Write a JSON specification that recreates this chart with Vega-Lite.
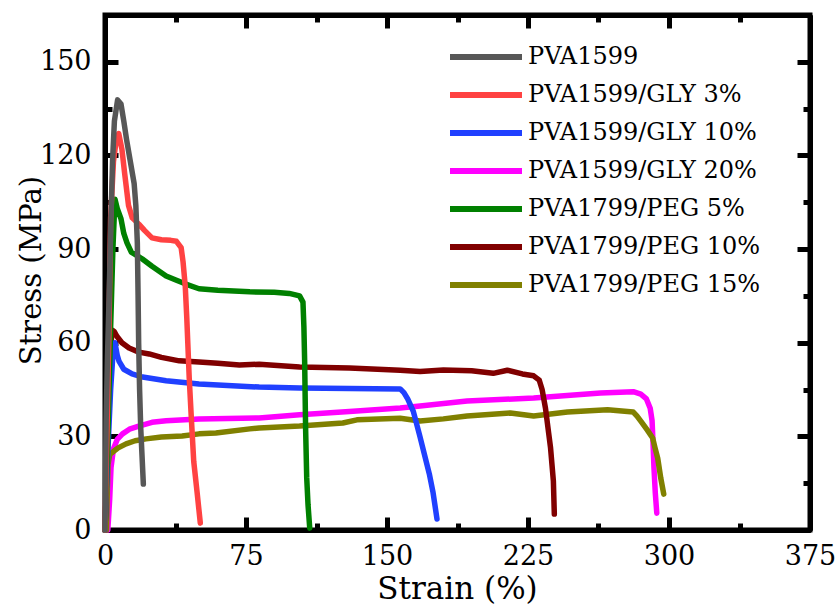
{
  "$schema": "https://vega.github.io/schema/vega-lite/v6.json",
  "width": 705,
  "height": 515,
  "autosize": {"type": "none"},
  "padding": {"left": 105, "top": 15, "right": 28, "bottom": 85},
  "background": "white",
  "config": {
    "font": "DejaVu Serif",
    "view": {"stroke": "black", "strokeWidth": 5},
    "axis": {
      "grid": false,
      "domainColor": "black",
      "domainWidth": 5,
      "tickColor": "black",
      "tickWidth": 5,
      "labelFont": "DejaVu Serif",
      "labelFontSize": 27,
      "labelColor": "black",
      "labelFlush": false,
      "labelOverlap": false,
      "titleFont": "DejaVu Serif",
      "titleFontSize": 31,
      "titleFontWeight": "normal",
      "titleColor": "black"
    },
    "legend": {
      "labelFont": "DejaVu Serif",
      "labelFontSize": 24,
      "labelColor": "black",
      "labelLimit": 0
    }
  },
  "data": {"values": [
    {"s":"PVA1599/GLY 20%","x":1.5,"y":0},{"s":"PVA1599/GLY 20%","x":2.5,"y":10},{"s":"PVA1599/GLY 20%","x":3.2,"y":20},{"s":"PVA1599/GLY 20%","x":4.5,"y":26},{"s":"PVA1599/GLY 20%","x":6.5,"y":29},{"s":"PVA1599/GLY 20%","x":9.3,"y":30.8},{"s":"PVA1599/GLY 20%","x":13,"y":32.3},{"s":"PVA1599/GLY 20%","x":18,"y":33.3},{"s":"PVA1599/GLY 20%","x":25,"y":34.5},{"s":"PVA1599/GLY 20%","x":32.5,"y":35},{"s":"PVA1599/GLY 20%","x":50,"y":35.6},{"s":"PVA1599/GLY 20%","x":82,"y":35.9},{"s":"PVA1599/GLY 20%","x":103.5,"y":36.9},{"s":"PVA1599/GLY 20%","x":130,"y":38},{"s":"PVA1599/GLY 20%","x":157,"y":39.1},{"s":"PVA1599/GLY 20%","x":167.6,"y":39.7},{"s":"PVA1599/GLY 20%","x":192.6,"y":41.3},{"s":"PVA1599/GLY 20%","x":228,"y":42.3},{"s":"PVA1599/GLY 20%","x":263.6,"y":43.9},{"s":"PVA1599/GLY 20%","x":281,"y":44.3},{"s":"PVA1599/GLY 20%","x":285,"y":43.5},{"s":"PVA1599/GLY 20%","x":288,"y":42},{"s":"PVA1599/GLY 20%","x":290,"y":39},{"s":"PVA1599/GLY 20%","x":291,"y":35},{"s":"PVA1599/GLY 20%","x":291.5,"y":28},{"s":"PVA1599/GLY 20%","x":292,"y":20},{"s":"PVA1599/GLY 20%","x":292.7,"y":12},{"s":"PVA1599/GLY 20%","x":293.5,"y":5.4},
    {"s":"PVA1799/PEG 15%","x":0.8,"y":0},{"s":"PVA1799/PEG 15%","x":1.2,"y":12},{"s":"PVA1799/PEG 15%","x":1.6,"y":21},{"s":"PVA1799/PEG 15%","x":2.5,"y":24.2},{"s":"PVA1799/PEG 15%","x":4.8,"y":25.3},{"s":"PVA1799/PEG 15%","x":7,"y":26.3},{"s":"PVA1799/PEG 15%","x":11.2,"y":27.6},{"s":"PVA1799/PEG 15%","x":16,"y":28.6},{"s":"PVA1799/PEG 15%","x":21.8,"y":29.2},{"s":"PVA1799/PEG 15%","x":30,"y":29.8},{"s":"PVA1799/PEG 15%","x":41,"y":30.1},{"s":"PVA1799/PEG 15%","x":50,"y":30.8},{"s":"PVA1799/PEG 15%","x":59,"y":31.1},{"s":"PVA1799/PEG 15%","x":77,"y":32.4},{"s":"PVA1799/PEG 15%","x":82,"y":32.7},{"s":"PVA1799/PEG 15%","x":103.5,"y":33.3},{"s":"PVA1799/PEG 15%","x":126.5,"y":34.3},{"s":"PVA1799/PEG 15%","x":134,"y":35.3},{"s":"PVA1799/PEG 15%","x":157,"y":35.8},{"s":"PVA1799/PEG 15%","x":167.6,"y":34.9},{"s":"PVA1799/PEG 15%","x":180,"y":35.6},{"s":"PVA1799/PEG 15%","x":192.6,"y":36.5},{"s":"PVA1799/PEG 15%","x":215.6,"y":37.5},{"s":"PVA1799/PEG 15%","x":228,"y":36.5},{"s":"PVA1799/PEG 15%","x":246,"y":37.8},{"s":"PVA1799/PEG 15%","x":267.3,"y":38.5},{"s":"PVA1799/PEG 15%","x":281,"y":37.8},{"s":"PVA1799/PEG 15%","x":283,"y":36.5},{"s":"PVA1799/PEG 15%","x":285,"y":34.9},{"s":"PVA1799/PEG 15%","x":288.5,"y":32},{"s":"PVA1799/PEG 15%","x":291.3,"y":29.5},{"s":"PVA1799/PEG 15%","x":292.5,"y":26.5},{"s":"PVA1799/PEG 15%","x":294,"y":23},{"s":"PVA1799/PEG 15%","x":295.6,"y":16.7},{"s":"PVA1799/PEG 15%","x":297.2,"y":11.5},
    {"s":"PVA1799/PEG 10%","x":0,"y":0},{"s":"PVA1799/PEG 10%","x":1,"y":20},{"s":"PVA1799/PEG 10%","x":2.2,"y":45},{"s":"PVA1799/PEG 10%","x":3.2,"y":60},{"s":"PVA1799/PEG 10%","x":3.9,"y":64},{"s":"PVA1799/PEG 10%","x":5,"y":63.5},{"s":"PVA1799/PEG 10%","x":6.4,"y":62},{"s":"PVA1799/PEG 10%","x":9,"y":60},{"s":"PVA1799/PEG 10%","x":12.8,"y":58.3},{"s":"PVA1799/PEG 10%","x":18,"y":57},{"s":"PVA1799/PEG 10%","x":23.5,"y":56.4},{"s":"PVA1799/PEG 10%","x":30,"y":55.3},{"s":"PVA1799/PEG 10%","x":39.5,"y":54.2},{"s":"PVA1799/PEG 10%","x":50,"y":53.8},{"s":"PVA1799/PEG 10%","x":60,"y":53.4},{"s":"PVA1799/PEG 10%","x":71.5,"y":52.9},{"s":"PVA1799/PEG 10%","x":82,"y":53.1},{"s":"PVA1799/PEG 10%","x":103.5,"y":52.2},{"s":"PVA1799/PEG 10%","x":130,"y":51.9},{"s":"PVA1799/PEG 10%","x":157,"y":51.2},{"s":"PVA1799/PEG 10%","x":167.6,"y":50.8},{"s":"PVA1799/PEG 10%","x":180,"y":51.3},{"s":"PVA1799/PEG 10%","x":195,"y":51},{"s":"PVA1799/PEG 10%","x":206.5,"y":50.2},{"s":"PVA1799/PEG 10%","x":214,"y":51.2},{"s":"PVA1799/PEG 10%","x":222,"y":50},{"s":"PVA1799/PEG 10%","x":228,"y":49.4},{"s":"PVA1799/PEG 10%","x":231,"y":48},{"s":"PVA1799/PEG 10%","x":232.5,"y":45},{"s":"PVA1799/PEG 10%","x":234.3,"y":39},{"s":"PVA1799/PEG 10%","x":236,"y":31},{"s":"PVA1799/PEG 10%","x":237,"y":26.3},{"s":"PVA1799/PEG 10%","x":238.5,"y":15.7},{"s":"PVA1799/PEG 10%","x":239,"y":5.1},
    {"s":"PVA1599/GLY 10%","x":0,"y":0},{"s":"PVA1599/GLY 10%","x":1.5,"y":25},{"s":"PVA1599/GLY 10%","x":3,"y":45},{"s":"PVA1599/GLY 10%","x":4.3,"y":57},{"s":"PVA1599/GLY 10%","x":5.3,"y":60},{"s":"PVA1599/GLY 10%","x":6.5,"y":56},{"s":"PVA1599/GLY 10%","x":7.5,"y":54},{"s":"PVA1599/GLY 10%","x":10,"y":51.5},{"s":"PVA1599/GLY 10%","x":14.4,"y":50},{"s":"PVA1599/GLY 10%","x":20,"y":49},{"s":"PVA1599/GLY 10%","x":32.5,"y":47.8},{"s":"PVA1599/GLY 10%","x":50,"y":46.8},{"s":"PVA1599/GLY 10%","x":82,"y":45.8},{"s":"PVA1599/GLY 10%","x":103.5,"y":45.5},{"s":"PVA1599/GLY 10%","x":130,"y":45.3},{"s":"PVA1599/GLY 10%","x":157,"y":45.2},{"s":"PVA1599/GLY 10%","x":159,"y":44},{"s":"PVA1599/GLY 10%","x":161,"y":42},{"s":"PVA1599/GLY 10%","x":164,"y":38},{"s":"PVA1599/GLY 10%","x":167.5,"y":30},{"s":"PVA1599/GLY 10%","x":170,"y":24},{"s":"PVA1599/GLY 10%","x":172.5,"y":18},{"s":"PVA1599/GLY 10%","x":174.5,"y":12},{"s":"PVA1599/GLY 10%","x":176.6,"y":3.5},
    {"s":"PVA1799/PEG 5%","x":0,"y":0},{"s":"PVA1799/PEG 5%","x":1.5,"y":30},{"s":"PVA1799/PEG 5%","x":3,"y":65},{"s":"PVA1799/PEG 5%","x":4.2,"y":90},{"s":"PVA1799/PEG 5%","x":5.3,"y":106},{"s":"PVA1799/PEG 5%","x":6.5,"y":103},{"s":"PVA1799/PEG 5%","x":8.5,"y":99.7},{"s":"PVA1799/PEG 5%","x":10,"y":95},{"s":"PVA1799/PEG 5%","x":11.7,"y":92},{"s":"PVA1799/PEG 5%","x":14,"y":89},{"s":"PVA1799/PEG 5%","x":19.7,"y":86.9},{"s":"PVA1799/PEG 5%","x":25,"y":84.5},{"s":"PVA1799/PEG 5%","x":32.5,"y":81.4},{"s":"PVA1799/PEG 5%","x":38,"y":80},{"s":"PVA1799/PEG 5%","x":43,"y":78.8},{"s":"PVA1799/PEG 5%","x":50,"y":77.3},{"s":"PVA1799/PEG 5%","x":60,"y":76.8},{"s":"PVA1799/PEG 5%","x":77,"y":76.3},{"s":"PVA1799/PEG 5%","x":90,"y":76.2},{"s":"PVA1799/PEG 5%","x":98,"y":75.8},{"s":"PVA1799/PEG 5%","x":103.5,"y":75},{"s":"PVA1799/PEG 5%","x":105.3,"y":73},{"s":"PVA1799/PEG 5%","x":105.8,"y":65},{"s":"PVA1799/PEG 5%","x":106.2,"y":54},{"s":"PVA1799/PEG 5%","x":106.7,"y":32.7},{"s":"PVA1799/PEG 5%","x":107.3,"y":16.7},{"s":"PVA1799/PEG 5%","x":108,"y":8},{"s":"PVA1799/PEG 5%","x":108.9,"y":0.6},
    {"s":"PVA1599/GLY 3%","x":0,"y":0},{"s":"PVA1599/GLY 3%","x":1,"y":30},{"s":"PVA1599/GLY 3%","x":2,"y":60},{"s":"PVA1599/GLY 3%","x":3,"y":100},{"s":"PVA1599/GLY 3%","x":4.5,"y":118},{"s":"PVA1599/GLY 3%","x":6,"y":125},{"s":"PVA1599/GLY 3%","x":7.3,"y":127},{"s":"PVA1599/GLY 3%","x":9,"y":122},{"s":"PVA1599/GLY 3%","x":10.5,"y":114},{"s":"PVA1599/GLY 3%","x":12.5,"y":104},{"s":"PVA1599/GLY 3%","x":14.5,"y":100},{"s":"PVA1599/GLY 3%","x":18,"y":98},{"s":"PVA1599/GLY 3%","x":21,"y":96},{"s":"PVA1599/GLY 3%","x":25,"y":93.6},{"s":"PVA1599/GLY 3%","x":30,"y":93},{"s":"PVA1599/GLY 3%","x":35,"y":92.8},{"s":"PVA1599/GLY 3%","x":38,"y":92.5},{"s":"PVA1599/GLY 3%","x":40.5,"y":90.5},{"s":"PVA1599/GLY 3%","x":41.5,"y":86},{"s":"PVA1599/GLY 3%","x":42.7,"y":78},{"s":"PVA1599/GLY 3%","x":43.5,"y":68},{"s":"PVA1599/GLY 3%","x":44.8,"y":48.7},{"s":"PVA1599/GLY 3%","x":46,"y":35},{"s":"PVA1599/GLY 3%","x":47.2,"y":22},{"s":"PVA1599/GLY 3%","x":49,"y":12},{"s":"PVA1599/GLY 3%","x":50.7,"y":2.2},
    {"s":"PVA1599","x":0,"y":0},{"s":"PVA1599","x":0.6,"y":35},{"s":"PVA1599","x":1.3,"y":55},{"s":"PVA1599","x":2.2,"y":75},{"s":"PVA1599","x":3.2,"y":100},{"s":"PVA1599","x":4,"y":118},{"s":"PVA1599","x":5,"y":131},{"s":"PVA1599","x":6.7,"y":137.8},{"s":"PVA1599","x":8.5,"y":136.5},{"s":"PVA1599","x":10,"y":131},{"s":"PVA1599","x":11.5,"y":125},{"s":"PVA1599","x":13.5,"y":118},{"s":"PVA1599","x":15.5,"y":111},{"s":"PVA1599","x":16.4,"y":104},{"s":"PVA1599","x":17.2,"y":92},{"s":"PVA1599","x":17.6,"y":75},{"s":"PVA1599","x":17.9,"y":60},{"s":"PVA1599","x":18.4,"y":45},{"s":"PVA1599","x":19,"y":32.7},{"s":"PVA1599","x":20.4,"y":14.7}
  ]},
  "layer": [
    {
      "mark": {"type": "line", "strokeWidth": 5.5, "strokeCap": "round", "strokeJoin": "round"},
      "encoding": {
        "x": {
          "field": "x", "type": "quantitative",
          "scale": {"domain": [0, 375], "nice": false, "zero": false},
          "axis": {
            "orient": "bottom",
            "values": [0, 75, 150, 225, 300, 375],
            "ticks": false,
            "labelPadding": 13,
            "title": "Strain (%)",
            "titleX": 352,
            "titleY": 68,
            "titleBaseline": "alphabetic",
            "titleAnchor": "middle"
          }
        },
        "y": {
          "field": "y", "type": "quantitative",
          "scale": {"domain": [0, 165], "nice": false, "zero": false},
          "axis": {
            "orient": "left",
            "values": [0, 30, 60, 90, 120, 150],
            "ticks": false,
            "labelPadding": 14,
            "title": "Stress (MPa)",
            "titleFontSize": 29,
            "titleAngle": 270,
            "titleX": -65,
            "titleY": 255,
            "titleBaseline": "alphabetic",
            "titleAlign": "center"
          }
        },
        "color": {
          "field": "s", "type": "nominal",
          "scale": {
            "domain": ["PVA1599", "PVA1599/GLY 3%", "PVA1599/GLY 10%", "PVA1599/GLY 20%", "PVA1799/PEG 5%", "PVA1799/PEG 10%", "PVA1799/PEG 15%"],
            "range": ["#575757", "#ff4242", "#2040ff", "#ff00ff", "#008000", "#800000", "#808000"]
          },
          "legend": {
            "orient": "none",
            "legendX": 366,
            "legendY": 27,
            "title": null,
            "padding": 0,
            "symbolType": "M-3,0H3",
            "symbolSize": 576,
            "symbolStrokeWidth": 6,
            "labelOffset": 27,
            "rowPadding": 11
          }
        }
      }
    },
    {
      "mark": {"type": "line", "opacity": 0},
      "encoding": {
        "x": {
          "field": "x", "type": "quantitative",
          "axis": {
            "orient": "top",
            "values": [0, 37.5, 75, 112.5, 150, 187.5, 225, 262.5, 300, 337.5, 375],
            "labels": false,
            "tickSize": {"condition": {"test": "datum.value % 75 === 0", "value": -13}, "value": -7},
            "title": null
          }
        },
        "y": {
          "field": "y", "type": "quantitative",
          "axis": {
            "orient": "right",
            "values": [0, 15, 30, 45, 60, 75, 90, 105, 120, 135, 150, 165],
            "labels": false,
            "tickSize": {"condition": {"test": "datum.value % 30 === 0", "value": -13}, "value": -7},
            "title": null
          }
        }
      }
    },
    {
      "mark": {"type": "line", "opacity": 0},
      "encoding": {
        "x": {
          "field": "x", "type": "quantitative",
          "axis": {
            "orient": "bottom",
            "values": [0, 37.5, 75, 112.5, 150, 187.5, 225, 262.5, 300, 337.5, 375],
            "labels": false,
            "tickSize": {"condition": {"test": "datum.value % 75 === 0", "value": -13}, "value": -7},
            "title": null
          }
        },
        "y": {
          "field": "y", "type": "quantitative",
          "axis": {
            "orient": "left",
            "values": [0, 15, 30, 45, 60, 75, 90, 105, 120, 135, 150, 165],
            "labels": false,
            "tickSize": {"condition": {"test": "datum.value % 30 === 0", "value": -13}, "value": -7},
            "title": null
          }
        }
      }
    }
  ],
  "resolve": {"axis": {"x": "independent", "y": "independent"}}
}
